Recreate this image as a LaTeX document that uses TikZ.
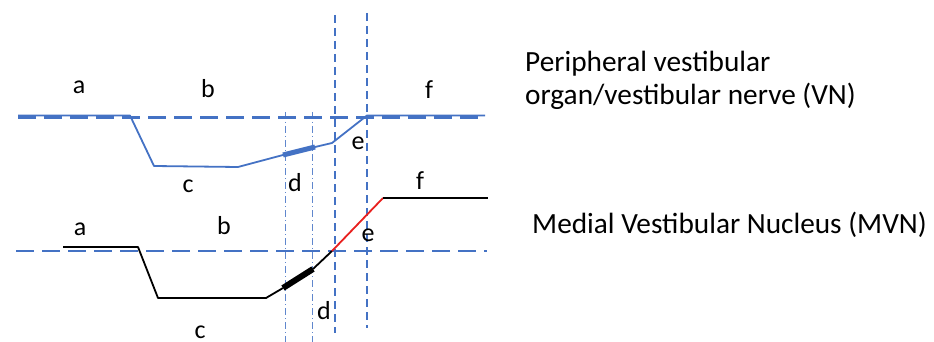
\documentclass[tikz,border=0pt]{standalone}
\usepackage{fontspec}
\setmainfont{Carlito}
\definecolor{obl}{HTML}{4472C4}
\definecolor{ored}{HTML}{E8201E}
\begin{document}
\begin{tikzpicture}[x=1pt,y=-1pt,
  base/.style={obl,line width=2.2pt,dash pattern=on 18pt off 8pt},
  vdash/.style={obl,line width=1.1pt,dash pattern=on 8pt off 5pt},
  vdot/.style={obl!85,line width=1pt,dash pattern=on 7pt off 3pt on 1pt off 3pt},
  btrace/.style={obl,line width=1.8pt,line join=round},
  ktrace/.style={black,line width=1.8pt,line join=round},
  lab/.style={inner sep=0pt,font=\fontsize{26}{30}\selectfont},
  desc/.style={inner sep=0pt,anchor=base west,font=\fontsize{29.3}{33}\selectfont}]
\useasboundingbox (0,0) rectangle (934,342);
% vertical guides
\draw[vdot] (285,112) -- (285,342);
\draw[vdot] (312,112) -- (312,342);
\draw[vdash] (335,15) -- (335,333);
\draw[vdash] (367,13) -- (367,328);
% baselines
\draw[base] (18,117.5) -- (485,117.5);
\draw[base] (16,251) -- (487,251);
% top trace (VN)
\coordinate (ta0) at (18,115.5);
\coordinate (ta1) at (130,115.5);
\coordinate (tc0) at (154,166);
\coordinate (tc1) at (238,167);
\coordinate (td0) at (283,155);
\coordinate (td1) at (315,147);
\coordinate (te0) at (332,143);
\coordinate (te1) at (367,115.5);
\coordinate (tf1) at (485,115.5);
\draw[btrace] (ta0) -- (ta1) -- (tc0) -- (tc1) -- (td0);
\draw[obl,line width=5pt] (td0) -- (td1);
\draw[btrace] (td1) -- (te0) -- (te1) -- (tf1);
% bottom trace (MVN)
\coordinate (ba0) at (63,247);
\coordinate (ba1) at (138,247);
\coordinate (bc0) at (158,298);
\coordinate (bc1) at (266,298);
\coordinate (bd0) at (283,288);
\coordinate (bd1) at (313,269);
\coordinate (be0) at (332,251);
\coordinate (be1) at (383,198);
\coordinate (bf1) at (488,198);
\draw[ktrace] (ba0) -- (ba1) -- (bc0) -- (bc1) -- (bd0);
\draw[black,line width=6pt] (bd0) -- (bd1);
\draw[ktrace] (bd1) -- (be0);
\draw[ored,line width=1.8pt] (be0) -- (be1);
\draw[ktrace] (be1) -- (bf1);
% labels top
\node[lab] (la1) at (79,87) {a};
\node[lab] (lb1) at (208,89) {b};
\node[lab] (lc1) at (188,186) {c};
\node[lab] (ld1) at (295,183) {d};
\node[lab] (le1) at (358,143) {e};
\node[lab] (lf1) at (429,90) {f};
% labels bottom
\node[lab] (la2) at (80,229) {a};
\node[lab] (lb2) at (224,226) {b};
\node[lab] (lc2) at (200,332) {c};
\node[lab] (ld2) at (324,311) {d};
\node[lab] (le2) at (368,235) {e};
\node[lab] (lf2) at (420,181) {f};
% descriptions
\node[desc] (vn1) at (525,72) {Peripheral vestibular};
\node[desc] (vn2) at (525,105) {organ/vestibular nerve (VN)};
\node[desc] (mvn) at (532,233) {Medial Vestibular Nucleus (MVN)};
\end{tikzpicture}
\end{document}
